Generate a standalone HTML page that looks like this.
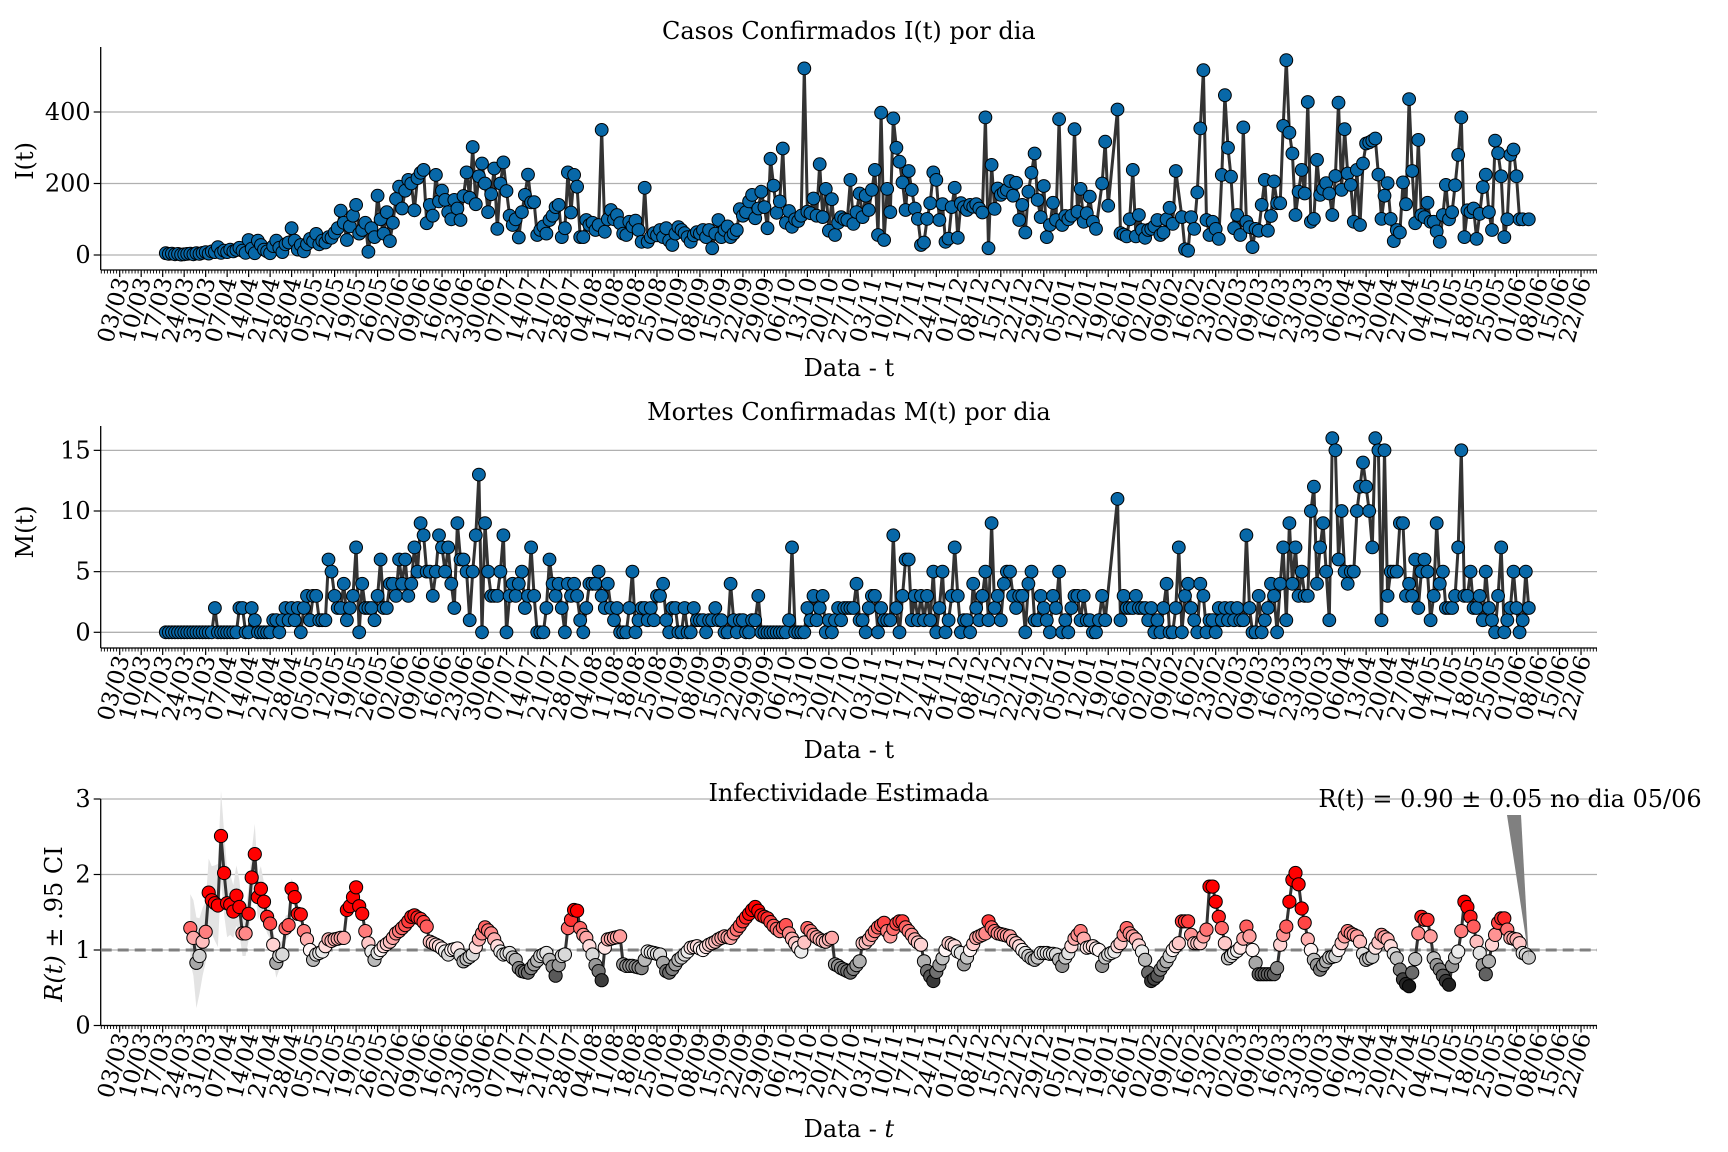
<!DOCTYPE html>
<html><head><meta charset="utf-8">
<style>
html,body{margin:0;padding:0;background:#fff;}
svg{display:block;font-family:"DejaVu Serif","Liberation Serif",serif;}
</style></head>
<body>
<svg id="chart" width="1728" height="1152" viewBox="0 0 1728 1152" xmlns="http://www.w3.org/2000/svg"></svg>
<script>
// ---- data ----
const tickLabels = ["03/03","10/03","17/03","24/03","31/03","07/04","14/04","21/04","28/04","05/05","12/05","19/05","26/05","02/06","09/06","16/06","23/06","30/06","07/07","14/07","21/07","28/07","04/08","11/08","18/08","25/08","01/09","08/09","15/09","22/09","29/09","06/10","13/10","20/10","27/10","03/11","10/11","17/11","24/11","01/12","08/12","15/12","22/12","29/12","05/01","12/01","19/01","26/01","02/02","09/02","16/02","23/02","02/03","09/03","16/03","23/03","30/03","06/04","13/04","20/04","27/04","04/05","11/05","18/05","25/05","01/06","08/06","15/06","22/06"];
const casesStartDay = 15;
const casesValues = [
5,3,4,2,3,1,2,3,4,2,
5,3,6,8,4,10,8,22,6,12,
8,15,10,14,20,12,6,42,18,5,
40,28,15,10,5,25,40,20,8,30,
35,75,40,15,28,10,30,45,38,59,
30,40,35,50,48,62,75,124,90,42,
80,110,140,60,70,90,9,75,50,166,
100,60,120,39,90,157,191,130,180,210,
200,125,215,230,238,89,140,110,224,150,
180,154,120,100,154,130,98,165,231,160,
302,142,220,256,200,120,170,242,73,200,
259,179,110,84,100,49,120,168,225,147,
148,56,70,80,60,98,110,134,140,50,
75,231,119,224,191,50,50,98,84,90,
70,84,350,65,100,126,100,112,89,60,
56,93,80,96,70,37,188,37,50,61,
55,70,50,75,40,28,60,78,70,61,
50,37,55,64,60,70,50,70,19,60,
98,50,70,80,50,60,70,128,110,120,
150,168,103,130,177,134,75,269,194,118,
150,298,90,123,79,100,95,110,522,121,
117,158,110,254,106,185,68,156,56,90,
106,100,98,210,87,120,172,106,166,126,
182,238,56,398,42,185,120,382,300,261,
203,126,235,182,130,101,28,35,101,145,
231,210,98,142,37,46,134,188,48,145,
134,126,140,135,142,130,119,385,19,252,
129,186,168,175,182,207,166,202,98,140,
63,177,230,284,154,106,193,50,84,146,
98,380,84,109,100,110,352,121,185,93,
117,163,93,73,null,200,317,138,null,null,
407,61,57,52,100,238,52,112,70,48,
70,73,80,98,56,63,100,132,87,235,
null,106,16,12,106,73,175,354,517,98,
56,93,73,45,224,447,300,219,75,112,
56,357,93,78,22,73,68,140,210,68,
109,206,145,145,361,545,342,284,112,177,
238,172,428,93,101,266,168,185,201,172,
112,221,426,182,352,228,196,93,238,84,
256,312,315,320,326,225,101,166,201,101,
39,70,63,203,142,436,235,89,322,112,
106,146,93,93,66,37,112,196,100,120,
195,280,385,50,125,120,130,45,115,190,
225,120,70,320,285,220,50,100,280,295,
220,100,100,null,100];
const deathsStartDay = 15;
const deathsValues = [
0,0,0,0,0,0,0,0,0,0,
0,0,0,0,0,0,2,0,0,0,
0,0,0,0,2,2,0,0,2,1,
0,0,0,0,0,1,1,0,1,2,
1,2,1,2,0,2,3,1,3,3,
1,1,1,6,5,3,2,2,4,1,
2,3,7,0,4,2,2,2,1,3,
6,2,2,4,4,3,6,4,6,3,
4,7,5,9,8,5,5,3,5,8,
7,5,7,4,2,9,6,6,5,1,
5,8,13,0,9,5,3,3,3,5,
8,0,3,4,3,4,5,2,3,7,
3,0,0,0,2,6,4,3,4,2,
0,4,3,4,3,1,0,2,4,4,
4,5,3,2,4,2,1,2,0,0,
0,2,5,0,1,2,2,1,2,1,
3,3,4,1,0,2,2,0,0,2,
0,0,2,1,1,1,0,1,1,2,
1,1,0,0,4,1,0,1,1,0,
0,1,1,3,0,0,0,0,0,0,
0,0,0,1,7,0,0,0,0,2,
1,3,1,2,3,0,1,0,1,2,
1,2,2,2,2,4,1,1,0,2,
3,3,0,2,1,1,1,8,2,0,
3,6,6,1,3,1,3,1,3,1,
5,0,2,5,0,1,3,7,3,0,
1,1,0,4,2,1,3,5,1,9,
2,3,1,4,5,5,3,2,3,3,
0,4,5,1,1,3,2,1,0,3,
2,5,0,1,0,2,3,3,1,3,
1,1,0,0,1,3,1,null,null,null,
11,1,3,2,2,2,3,2,2,2,
1,2,0,1,0,2,4,0,0,2,
7,0,3,4,2,1,0,4,3,0,
1,1,0,2,1,2,1,2,1,2,
1,1,8,2,0,0,3,0,1,2,
4,3,0,4,7,1,9,4,7,3,
5,3,3,10,12,4,7,9,5,1,
16,15,6,10,5,4,5,5,10,12,
14,12,10,7,16,15,1,15,3,5,
5,5,9,9,3,4,3,6,2,5,
6,5,1,3,9,4,5,2,2,2,
3,7,15,3,3,5,2,2,3,1,
5,2,1,0,3,7,0,1,2,5,
2,0,1,5,2];
const rStartDay = 23;
const rValues = [
1.29,1.16,0.83,0.92,1.11,1.24,1.76,1.66,1.62,1.59,
2.51,2.02,1.62,1.60,1.51,1.72,1.57,1.22,1.22,1.48,
1.96,2.27,1.70,1.81,1.64,1.44,1.35,1.07,0.83,0.92,
0.94,1.29,1.33,1.81,1.70,1.48,1.47,1.25,1.14,1.00,
0.87,0.94,0.96,0.98,1.05,1.14,1.12,1.14,1.15,1.16,
1.16,1.53,1.58,1.70,1.83,1.58,1.48,1.25,1.09,0.98,
0.87,0.96,1.00,1.05,1.08,1.11,1.16,1.22,1.25,1.29,
1.33,1.38,1.44,1.46,1.43,1.41,1.37,1.31,1.11,1.09,
1.07,1.05,1.02,0.98,0.94,1.00,1.01,1.02,0.93,0.85,
0.88,0.91,0.94,1.04,1.14,1.22,1.30,1.26,1.22,1.14,
1.05,0.98,0.94,0.95,0.96,0.90,0.87,0.76,0.72,0.71,
0.70,0.76,0.81,0.86,0.92,0.94,0.96,0.87,0.78,0.66,
0.80,0.92,0.94,1.29,1.40,1.53,1.52,1.29,1.20,1.16,
1.05,0.94,0.80,0.72,0.60,1.03,1.14,1.15,1.16,1.17,
1.18,0.81,0.79,0.79,0.79,0.78,0.77,0.76,0.87,0.98,
0.97,0.96,0.95,0.94,0.83,0.72,0.70,0.75,0.81,0.87,
0.90,0.94,0.98,1.03,1.04,1.05,1.02,1.00,1.04,1.07,
1.09,1.11,1.14,1.16,1.18,1.17,1.16,1.22,1.27,1.32,
1.38,1.43,1.48,1.53,1.57,1.52,1.46,1.44,1.42,1.37,
1.32,1.28,1.25,1.30,1.33,1.22,1.15,1.09,1.03,0.98,
1.10,1.29,1.25,1.20,1.17,1.14,1.12,1.11,1.14,1.16,
0.81,0.79,0.76,0.74,0.72,0.70,0.75,0.80,0.85,1.09,
1.10,1.14,1.20,1.25,1.30,1.33,1.36,1.25,1.18,1.28,
1.35,1.38,1.38,1.30,1.25,1.20,1.14,1.10,1.07,0.85,
0.72,0.65,0.59,0.71,0.80,0.89,1.00,1.09,1.07,1.05,
0.98,0.96,0.81,0.90,1.00,1.08,1.16,1.18,1.20,1.22,
1.38,1.30,1.25,1.22,1.21,1.20,1.19,1.18,1.12,1.09,
1.05,1.00,0.96,0.92,0.89,0.87,0.90,0.96,0.96,0.96,
0.95,0.95,0.94,0.87,0.79,0.90,0.96,1.05,1.15,1.20,
1.25,1.15,1.03,1.04,1.05,1.02,1.00,0.79,0.90,0.94,
0.96,0.98,1.05,1.09,1.20,1.29,1.22,1.18,1.14,1.06,
0.98,0.87,0.70,0.59,0.62,0.66,0.74,0.80,0.85,0.92,
1.00,1.05,1.09,1.38,1.38,1.38,1.20,1.09,1.09,1.09,
1.18,1.27,1.84,1.84,1.64,1.44,1.29,1.09,0.89,0.92,
0.96,0.99,1.03,1.15,1.31,1.18,1.00,0.83,0.68,0.68,
0.68,0.68,0.68,0.68,0.76,1.07,1.20,1.31,1.64,1.93,
2.02,1.87,1.55,1.36,1.14,1.00,0.87,0.80,0.74,0.80,
0.85,0.90,0.91,0.92,1.00,1.09,1.18,1.25,1.22,1.20,
1.18,1.11,0.95,0.87,0.89,0.91,1.03,1.10,1.20,1.17,
1.14,1.05,0.95,0.89,0.74,0.61,0.55,0.52,0.70,0.88,
1.22,1.44,1.40,1.40,1.18,0.89,0.80,0.74,0.66,0.59,
0.54,0.79,0.90,0.98,1.25,1.64,1.57,1.44,1.31,1.11,
0.96,0.80,0.68,0.85,1.07,1.20,1.36,1.42,1.42,1.27,
1.16,1.15,1.14,1.09,0.96,0.94,0.90];
// half-width of the 95% CI band (early, wide part; later hidden behind markers)
const rCiHalf = [0.45,0.5,0.6,0.5,0.45,0.4,0.45,0.45,0.5,0.55,0.6,0.55,0.45,0.4,0.35,0.4,0.35,0.3,0.3,0.35,0.35,0.4,0.3,0.3,0.25,0.22,0.2,0.2,0.2,0.18,0.18,0.16,0.15,0.14,0.12,0.1];
const rCiRest = 0.05;
const annotText = "R(t) = 0.90 \u00b1 0.05 no dia 05/06";

// ---- geometry ----
const X0 = 119.7, PXD = 3.07, LEFT = 100.7, RIGHT = 1597;
const xDay = d => X0 + d * PXD;
const NS = "http://www.w3.org/2000/svg";
const svg = document.getElementById("chart");
function mk(tag, attrs, parent) {
  const e = document.createElementNS(NS, tag);
  for (const k in attrs) e.setAttribute(k, attrs[k]);
  (parent || svg).appendChild(e);
  return e;
}
const panels = [
  {key:"cases", top:47, bottom:270, y:v=>255 - v*71.5/200, ticks:[0,200,400], title:"Casos Confirmados I(t) por dia", titleY:39, ylab:"I(t)", ylabX:33, ylabY:161, xlabY:376},
  {key:"deaths", top:426, bottom:648, y:v=>632.3 - v*12.13, ticks:[0,5,10,15], title:"Mortes Confirmadas M(t) por dia", titleY:420, ylab:"M(t)", ylabX:33, ylabY:532, xlabY:758},
  {key:"rt", top:799, bottom:1025.5, y:v=>1025.5 - v*75.5, ticks:[0,1,2,3], title:"Infectividade Estimada", titleY:801, ylab:"rt", ylabX:62, ylabY:924, xlabY:1137}
];

panels.forEach(p => {
  const g = mk("g", {});
  
  
  p.ticks.forEach(t => {
    const gl = mk("line", {x1:LEFT, x2:RIGHT, y1:p.y(t), y2:p.y(t), stroke:"#b0b0b0", "stroke-width":1.3}, g);
    
    
    const tk = mk("line", {x1:LEFT-7, x2:LEFT, y1:p.y(t), y2:p.y(t), stroke:"#000", "stroke-width":1.2}, g);
    
    
    const tl = mk("text", {x:LEFT-10, y:p.y(t)+8, "text-anchor":"end", "font-size":24, fill:"#000"}, g);
    tl.textContent = String(t);
    
    
  });
  const ls = mk("line", {x1:LEFT, x2:LEFT, y1:p.top, y2:p.bottom, stroke:"#000", "stroke-width":1.3}, g);
  
  
  const bs = mk("line", {x1:LEFT, x2:RIGHT, y1:p.bottom, y2:p.bottom, stroke:"#000", "stroke-width":1.3}, g);
  
  
  let dpath = "";
  for (let d = -6; xDay(d) <= RIGHT; d++) {
    if (d % 7 === 0) continue;
    dpath += `M${xDay(d).toFixed(1)},${p.bottom}v3.5`;
  }
  const mt = mk("path", {d:dpath, stroke:"#000", "stroke-width":0.9}, g);
  
  
  tickLabels.forEach((lab, i) => {
    const x = xDay(i*7);
    const t = mk("line", {x1:x, x2:x, y1:p.bottom, y2:p.bottom+7, stroke:"#000", "stroke-width":1.2}, g);
    
    
    const tx = mk("text", {"font-size":23, "text-anchor":"end", transform:`translate(${(x+10).toFixed(1)},${p.bottom+10}) rotate(-75)`, fill:"#000"}, g);
    tx.textContent = lab;
    
    
  });
  const ti = mk("text", {x:(LEFT+RIGHT)/2, y:p.titleY, "text-anchor":"middle", "font-size":24}, g);
  ti.textContent = p.title;
  
  
  const xl = mk("text", {x:(LEFT+RIGHT)/2, y:p.xlabY, "text-anchor":"middle", "font-size":24}, g);
  if (p.key === "rt") {
    xl.textContent = "Data - ";
    const it = mk("tspan", {"font-style":"italic"}, xl);
    it.textContent = "t";
  } else xl.textContent = "Data - t";
  
  
  const yl = mk("text", {transform:`translate(${p.ylabX},${p.ylabY}) rotate(-90)`, "text-anchor":"middle", "font-size":24}, g);
  if (p.key === "rt") {
    const a = mk("tspan", {"font-style":"italic"}, yl); a.textContent = "R(t)";
    const b = mk("tspan", {}, yl); b.textContent = " \u00b1 .95 CI";
  } else yl.textContent = p.ylab;
  
  
  p.g = g;
});

function drawSeries(p, start, vals, colorFn, r, name) {
  let d = "";
  vals.forEach((v, i) => {
    if (v === null) return;
    const x = xDay(start + i), y = p.y(v);
    d += (d ? "L" : "M") + x.toFixed(1) + "," + y.toFixed(1);
  });
  const line = mk("path", {d:d, fill:"none", stroke:"#333", "stroke-width":3, "stroke-linejoin":"round"}, p.g);
  
  
  vals.forEach((v, i) => {
    if (v === null) return;
    const c = mk("circle", {cx:xDay(start+i).toFixed(1), cy:p.y(v).toFixed(1), r:r, fill:colorFn(v), stroke:"#000", "stroke-width":1}, p.g);
    
    
  });
}

drawSeries(panels[0], casesStartDay, casesValues, () => "#0868a8", 6.4, "cases");
drawSeries(panels[1], deathsStartDay, deathsValues, () => "#0868a8", 6.4, "deaths");

const pr = panels[2];
let up = "", lo = [];
rValues.forEach((v, i) => {
  const h = i < rCiHalf.length ? rCiHalf[i] : rCiRest;
  const x = xDay(rStartDay + i);
  up += (up ? "L" : "M") + x.toFixed(1) + "," + pr.y(v + h).toFixed(1);
  lo.push("L" + x.toFixed(1) + "," + pr.y(Math.max(0, v - h)).toFixed(1));
});
const band = mk("path", {d: up + lo.reverse().join("") + "Z", fill:"#e3e3e3", stroke:"none"}, pr.g);


const ref = mk("line", {x1:LEFT, x2:RIGHT, y1:pr.y(1), y2:pr.y(1), stroke:"#808080", "stroke-width":3, "stroke-dasharray":"11,6"}, pr.g);



function rColor(v) {
  if (v >= 1) {
    const t = Math.min(1, (v - 1) / 0.5);
    const gb = Math.round(245 * (1 - t));
    return `rgb(255,${gb},${gb})`;
  }
  const t = Math.min(1, (1 - v) / 0.5);
  const c = Math.round(245 - 230 * t);
  return `rgb(${c},${c},${c})`;
}
drawSeries(pr, rStartDay, rValues, rColor, 6.6, "rt");

const lastIdx = rValues.length - 1;
const ax = xDay(rStartDay + lastIdx), ay = pr.y(rValues[lastIdx]);
const wedge = mk("polygon", {points:`1507,815 1521,815 ${ax.toFixed(1)},${ay.toFixed(1)}`, fill:"#808080"}, pr.g);


const at = mk("text", {x:1510, y:807, "text-anchor":"middle", "font-size":24}, pr.g);
at.textContent = annotText;


</script>
</body></html>
